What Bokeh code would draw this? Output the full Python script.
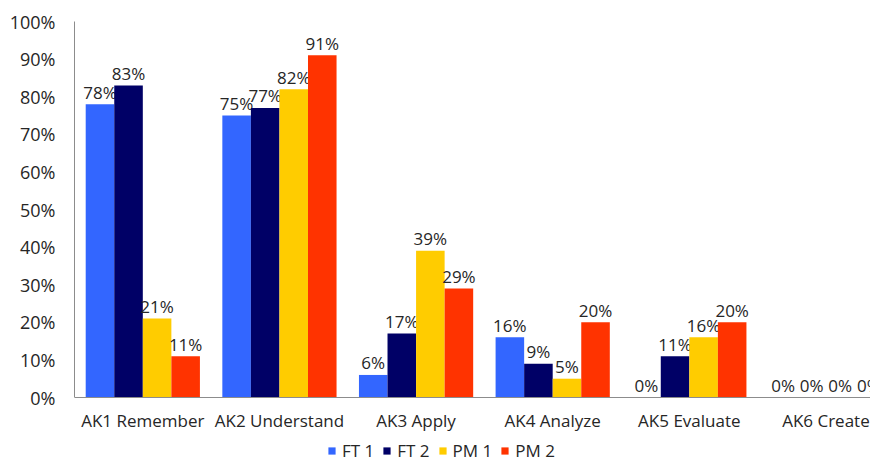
from bokeh.plotting import figure
from bokeh.models import ColumnDataSource, FixedTicker, Range1d, Legend, LegendItem, NumeralTickFormatter
from bokeh.transform import dodge
from bokeh.core.properties import value
from bokeh.embed import file_html
from bokeh.resources import INLINE

categories = ["AK1 Remember", "AK2 Understand", "AK3 Apply", "AK4 Analyze", "AK5 Evaluate", "AK6 Create"]
series = ["FT 1", "FT 2", "PM 1", "PM 2"]
ft1 = [78, 75, 6, 16, 0, 0]
ft2 = [83, 77, 17, 9, 11, 0]
pm1 = [21, 82, 39, 5, 16, 0]
pm2 = [11, 91, 29, 20, 20, 0]
colors = ["#3366FF", "#000066", "#FFCC00", "#FF3300"]

FONT = "Open Sans"
TXT = "#262626"

p = figure(width=870, height=463, output_backend="svg", toolbar_location=None,
           x_range=Range1d(-0.5, 5.326), y_range=Range1d(-0.1755, 1.0),
           min_border_left=74, min_border_right=0, min_border_top=21, min_border_bottom=0)
p.outline_line_color = None
p.xgrid.visible = False
p.ygrid.visible = False

w = 0.209
offsets = [-1.5 * w, -0.5 * w, 0.5 * w, 1.5 * w]
items = []
for name, vals, col, off in zip(series, [ft1, ft2, pm1, pm2], colors, offsets):
    src = ColumnDataSource(dict(x=list(range(len(categories))),
                                y=[v / 100 for v in vals],
                                lab=[f"{v}%" for v in vals]))
    r = p.vbar(x=dodge("x", off, range=p.x_range), top="y", bottom=0, width=w, source=src,
               fill_color=col, line_color=None)
    p.text(x=dodge("x", off, range=p.x_range), y="y", text="lab", source=src,
           text_align="center", text_baseline="alphabetic", y_offset=-12,
           text_font=value(FONT), text_font_size="17px", text_color=TXT)
    items.append(LegendItem(label=name, renderers=[r]))

p.xaxis.fixed_location = 0
p.xaxis.ticker = FixedTicker(ticks=list(range(len(categories))))
p.xaxis.major_label_overrides = {i: c for i, c in enumerate(categories)}
p.xaxis.major_tick_line_color = None
p.xaxis.minor_tick_line_color = None
p.xaxis.axis_line_color = "#8c8c8c"
p.xaxis.major_label_standoff = 5
p.xaxis.major_label_text_font = FONT
p.xaxis.major_label_text_font_size = "17px"
p.xaxis.major_label_text_color = TXT

p.yaxis.bounds = (0, 1)
p.yaxis.ticker = FixedTicker(ticks=[i / 10 for i in range(11)])
p.yaxis.formatter = NumeralTickFormatter(format="0%")
p.yaxis.major_tick_line_color = None
p.yaxis.minor_tick_line_color = None
p.yaxis.axis_line_color = "#8c8c8c"
p.yaxis.major_label_standoff = 13
p.yaxis.major_label_text_font = FONT
p.yaxis.major_label_text_font_size = "18px"
p.yaxis.major_label_text_color = TXT

legend = Legend(items=items, orientation="horizontal", location=(253, 1),
                glyph_width=9, glyph_height=9, label_height=12, label_standoff=6, spacing=8,
                label_text_font=FONT, label_text_font_size="17px", label_text_color=TXT,
                border_line_color=None, background_fill_alpha=0, padding=0, margin=0)
p.add_layout(legend, "center")

open("out.html", "w").write(file_html(p, INLINE))
